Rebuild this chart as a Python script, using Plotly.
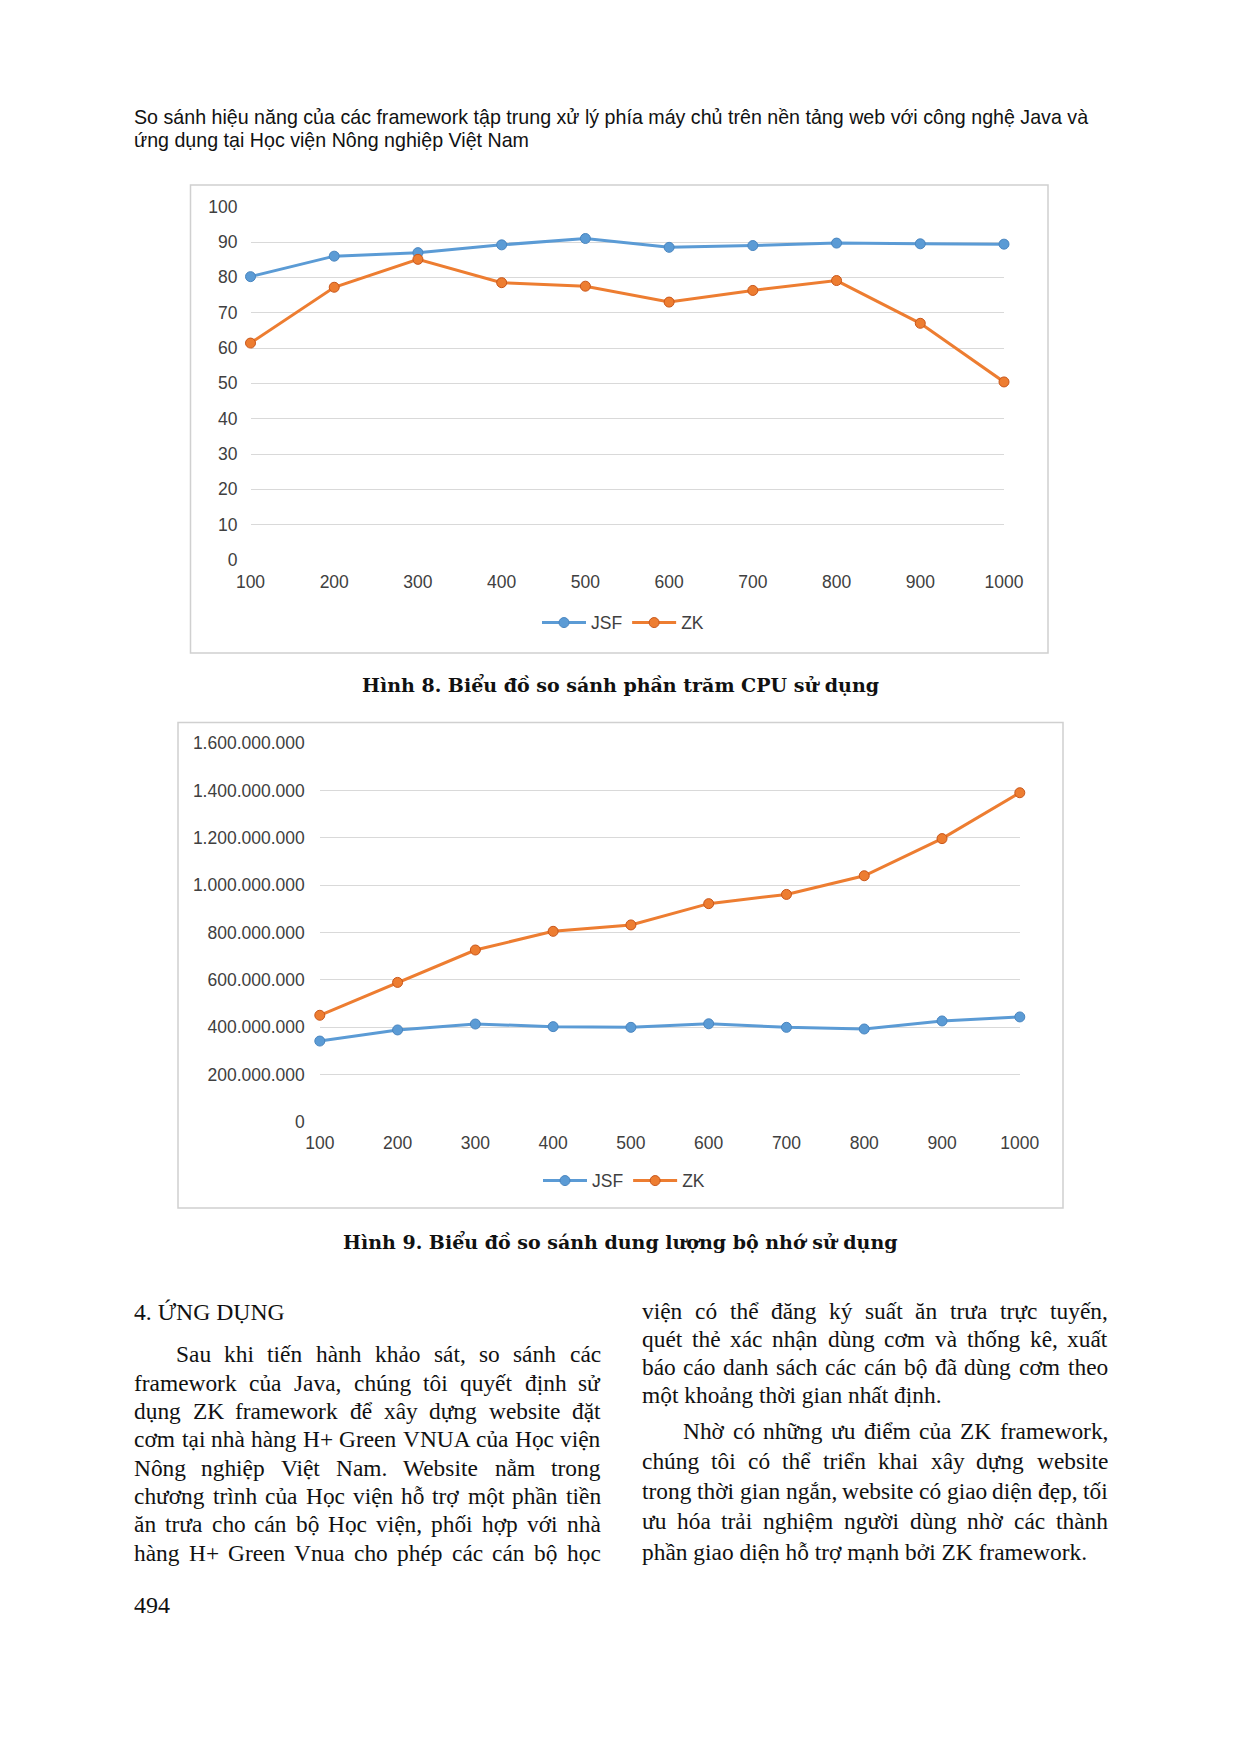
import unicodedata
import plotly.graph_objects as go

# Page and figure are the same size; every position below is in page pixels.
PAGE_W, PAGE_H = 1240, 1753
OFF = 0
W, H = PAGE_W - 2 * OFF, PAGE_H - 2 * OFF

# ---------------- data ----------------
users = [100, 200, 300, 400, 500, 600, 700, 800, 900, 1000]
x_tick_labels = ["100", "200", "300", "400", "500", "600", "700", "800", "900", "1000"]

cpu_jsf = [80.2, 86.0, 87.0, 89.2, 91.0, 88.5, 89.0, 89.7, 89.5, 89.4]
cpu_zk = [61.4, 77.2, 85.1, 78.5, 77.5, 73.0, 76.3, 79.1, 67.0, 50.4]
cpu_ticks = [0, 10, 20, 30, 40, 50, 60, 70, 80, 90, 100]
cpu_tick_labels = ["0", "10", "20", "30", "40", "50", "60", "70", "80", "90", "100"]

mem_jsf = [341e6, 388e6, 413e6, 402e6, 399e6, 414e6, 399e6, 392e6, 426e6, 443e6]
mem_zk = [450e6, 589e6, 726e6, 805e6, 832e6, 922e6, 961e6, 1040e6, 1197e6, 1391e6]
mem_ticks = [0, 200e6, 400e6, 600e6, 800e6, 1000e6, 1200e6, 1400e6, 1600e6]
mem_tick_labels = ["0", "200.000.000", "400.000.000", "600.000.000", "800.000.000",
                   "1.000.000.000", "1.200.000.000", "1.400.000.000", "1.600.000.000"]

series_names = ["JSF", "ZK"]

header_lines = [
    "So sánh hiệu năng của các framework tập trung xử lý phía máy chủ trên nền tảng web với công nghệ Java và",
    "ứng dụng tại Học viện Nông nghiệp Việt Nam",
]
caption1 = "Hình 8. Biểu đồ so sánh phần trăm CPU sử dụng"
caption2 = "Hình 9. Biểu đồ so sánh dung lượng bộ nhớ sử dụng"
section_title = "4. ỨNG DỤNG"
left_col = [
    "Sau khi tiến hành khảo sát, so sánh các",
    "framework của Java, chúng tôi quyết định sử",
    "dụng ZK framework để xây dựng website đặt",
    "cơm tại nhà hàng H+ Green VNUA của Học viện",
    "Nông nghiệp Việt Nam. Website nằm trong",
    "chương trình của Học viện hỗ trợ một phần tiền",
    "ăn trưa cho cán bộ Học viện, phối hợp với nhà",
    "hàng H+ Green Vnua cho phép các cán bộ học",
]
right_col = [
    "viện có thể đăng ký suất ăn trưa trực tuyến,",
    "quét thẻ xác nhận dùng cơm và thống kê, xuất",
    "báo cáo danh sách các cán bộ đã dùng cơm theo",
    "một khoảng thời gian nhất định.",
    "Nhờ có những ưu điểm của ZK framework,",
    "chúng tôi có thể triển khai xây dựng website",
    "trong thời gian ngắn, website có giao diện đẹp, tối",
    "ưu hóa trải nghiệm người dùng nhờ các thành",
    "phần giao diện hỗ trợ mạnh bởi ZK framework.",
]
page_number = "494"

# ---------------- style ----------------
BLUE = "#5b9bd5"
BLUE_EDGE = "#4a86c0"
ORANGE = "#ed7d31"
ORANGE_EDGE = "#c9561a"
GRID = "#d9d9d9"
TICK_COLOR = "#404040"
SANS = "Liberation Sans, Arial, sans-serif"
SERIF = "Liberation Serif, Times New Roman, serif"
CAP_SERIF = "DejaVu Serif, serif"
BODY_COLOR = "#111111"


def px_x(p):
    return (p - OFF) / W


def px_y(p):
    return 1 - (p - OFF) / H


fig = go.Figure()

# ---------------- chart 1 (CPU) ----------------
for name, vals, col, edge in [(series_names[0], cpu_jsf, BLUE, BLUE_EDGE),
                              (series_names[1], cpu_zk, ORANGE, ORANGE_EDGE)]:
    fig.add_trace(go.Scatter(
        x=users, y=vals, name=name, mode="lines+markers",
        line=dict(color=col, width=3),
        marker=dict(size=10, color=col, line=dict(color=edge, width=1)),
        cliponaxis=False, xaxis="x", yaxis="y", legend="legend",
    ))

# ---------------- chart 2 (memory) ----------------
for name, vals, col, edge in [(series_names[0], mem_jsf, BLUE, BLUE_EDGE),
                              (series_names[1], mem_zk, ORANGE, ORANGE_EDGE)]:
    fig.add_trace(go.Scatter(
        x=users, y=vals, name=name, mode="lines+markers",
        line=dict(color=col, width=3),
        marker=dict(size=10, color=col, line=dict(color=edge, width=1)),
        cliponaxis=False, xaxis="x2", yaxis="y2", legend="legend2",
    ))

axis_common = dict(
    showline=False, zeroline=False, ticks="", showgrid=True,
    gridcolor=GRID, gridwidth=1.3, automargin=False,
    tickfont=dict(family=SANS, size=17.5, color=TICK_COLOR),
    fixedrange=True,
)

# chart 1 geometry (page px)
c1_left, c1_right, c1_top, c1_bottom = 250.5, 1004, 206.7, 560
# chart 2 geometry (page px)
c2_left, c2_right, c2_top, c2_bottom = 319.8, 1019.8, 743.3, 1121.7

legend_common = dict(orientation="h", xanchor="center", yanchor="middle",
                     font=dict(family=SANS, size=17.5, color=TICK_COLOR),
                     itemwidth=44, bgcolor="rgba(0,0,0,0)", tracegroupgap=0)

fig.update_layout(
    template="none",
    width=W, height=H,
    margin=dict(l=0, r=0, t=0, b=0, pad=0, autoexpand=False),
    paper_bgcolor="white", plot_bgcolor="white",
    xaxis=dict(axis_common, domain=[px_x(c1_left), px_x(c1_right)], range=[100, 1000],
               tickvals=users, ticktext=x_tick_labels, showgrid=False,
               anchor="y", ticklabelstandoff=9),
    yaxis=dict(axis_common, domain=[px_y(c1_bottom), px_y(c1_top)], range=[0, 100],
               tickvals=cpu_ticks, ticktext=cpu_tick_labels, anchor="x",
               ticklabelstandoff=12),
    xaxis2=dict(axis_common, domain=[px_x(c2_left), px_x(c2_right)], range=[100, 1000],
                tickvals=users, ticktext=x_tick_labels, showgrid=False,
                anchor="y2", ticklabelstandoff=9),
    yaxis2=dict(axis_common, domain=[px_y(c2_bottom), px_y(c2_top)], range=[0, 1600e6],
                tickvals=mem_ticks, ticktext=mem_tick_labels, anchor="x2",
                ticklabelstandoff=14),
    legend=dict(legend_common, x=px_x(623), y=px_y(622.7)),
    legend2=dict(legend_common, x=px_x(624), y=px_y(1180.7)),
    showlegend=True,
)

# chart frames
shapes = [
    dict(type="rect", xref="paper", yref="paper",
         x0=px_x(190.5), x1=px_x(1048), y0=px_y(653), y1=px_y(185),
         line=dict(color="#d0d0d0", width=1.5), fillcolor="rgba(0,0,0,0)", layer="below"),
    dict(type="rect", xref="paper", yref="paper",
         x0=px_x(178), x1=px_x(1063), y0=px_y(1208), y1=px_y(722.5),
         line=dict(color="#d0d0d0", width=1.5), fillcolor="rgba(0,0,0,0)", layer="below"),
]
fig.update_layout(shapes=shapes)

annotations = []


def text(t, x, y, size, family, xanchor="left", color=BODY_COLOR, bold=False):
    annotations.append(dict(
        text=("<b>%s</b>" % t) if bold else t,
        x=px_x(x), y=px_y(y), xref="paper", yref="paper",
        xanchor=xanchor, yanchor="middle", showarrow=False,
        borderpad=0, borderwidth=0,
        font=dict(family=family, size=size, color=color),
    ))


# approximate Times/Liberation Serif advance widths (1/1000 em) for justification
TW = {' ': 250, 'a': 444, 'b': 500, 'c': 444, 'd': 500, 'e': 444, 'f': 333, 'g': 500,
      'h': 500, 'i': 278, 'j': 278, 'k': 500, 'l': 278, 'm': 778, 'n': 500, 'o': 500,
      'p': 500, 'q': 500, 'r': 333, 's': 389, 't': 278, 'u': 500, 'v': 500, 'w': 722,
      'x': 500, 'y': 500, 'z': 444, 'A': 722, 'B': 667, 'C': 667, 'D': 722, 'E': 611,
      'F': 556, 'G': 722, 'H': 722, 'I': 333, 'J': 389, 'K': 722, 'L': 611, 'M': 889,
      'N': 722, 'O': 722, 'P': 556, 'Q': 722, 'R': 667, 'S': 556, 'T': 611, 'U': 722,
      'V': 722, 'W': 944, 'X': 722, 'Y': 722, 'Z': 611, ',': 250, '.': 250, '+': 564,
      'đ': 500, 'Đ': 722}


def word_em(w):
    total = 0
    for ch in w:
        if ch in TW:
            total += TW[ch]
            continue
        d = unicodedata.normalize("NFD", ch)
        total += TW.get(d[0], 500)
        if "\u031b" in d:
            total += 50
    return total / 1000.0


BODY_SIZE = 23.4


def justified(line, x0, x1, y, justify=True, size=BODY_SIZE):
    words = line.split(" ")
    if not justify or len(words) == 1:
        text(line, x0, y, size, SERIF)
        return
    widths = [word_em(w) * size for w in words]
    gap = (x1 - x0 - sum(widths)) / (len(words) - 1)
    x = x0
    for i, w in enumerate(words):
        if i == len(words) - 1:
            text(w, x1, y, size, SERIF, xanchor="right")
        else:
            text(w, x, y, size, SERIF)
        x += widths[i] + gap


# header
text(header_lines[0], 134, 117, 19.65, SANS)
text(header_lines[1], 134, 140, 19.65, SANS)

# captions
text(caption1, 620, 684, 19, CAP_SERIF, xanchor="center", bold=True)
text(caption2, 620, 1241, 19, CAP_SERIF, xanchor="center", bold=True)

# section title
text(section_title, 134, 1311.5, 23.7, SERIF)

L0, L1 = 134, 600.5
R0, R1 = 642, 1108
left_y = [1354, 1382.5, 1411, 1439, 1467.5, 1496, 1524, 1552.5]
for i, (line, y) in enumerate(zip(left_col, left_y)):
    justified(line, L0 + 41.5 if i == 0 else L0, L1, y)

right_y = [1310.5, 1339, 1367, 1395, 1431, 1461, 1491, 1521, 1551.5]
last_lines = {3, 8}
for i, (line, y) in enumerate(zip(right_col, right_y)):
    justified(line, R0 + 41 if i == 4 else R0, R1, y, justify=(i not in last_lines))

text(page_number, 134, 1605, 24, SERIF)

fig.update_layout(annotations=annotations)

fig.write_html("out.html")
